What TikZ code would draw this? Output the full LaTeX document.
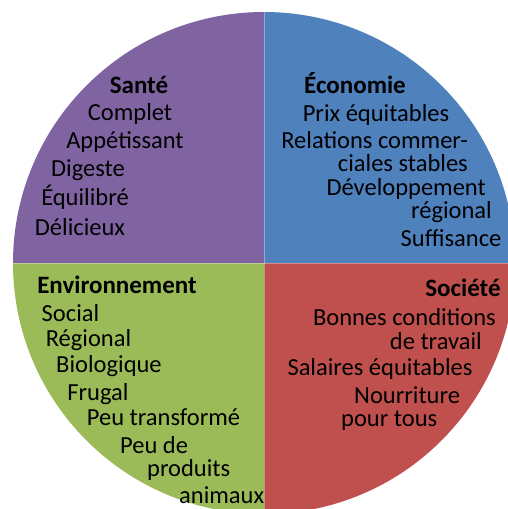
\documentclass[tikz,border=0pt]{standalone}
\usepackage{fontspec}
\setmainfont{Carlito}
\definecolor{sante}{HTML}{8064A2}
\definecolor{eco}{HTML}{4F81BD}
\definecolor{envi}{HTML}{9BBB59}
\definecolor{soc}{HTML}{C0504D}
\tikzset{
  lbl/.style={inner sep=0pt, anchor=base, font=\fontsize{24.5}{20}\selectfont, text=black},
  lble/.style={lbl, anchor=base east},
  lblw/.style={lbl, anchor=base west},
  ttl/.style={lbl, font=\fontsize{25}{20}\selectfont\bfseries},
  seam/.style={draw=white, draw opacity=0.35, line width=0.7pt}
}
\begin{document}
\begin{tikzpicture}[x=1pt,y=-1pt]
\useasboundingbox (0,0) rectangle (508,509);
\begin{scope}
  \clip (0,0) rectangle (508,509);
  \clip (264,263) circle (251pt);
  \fill[sante] (0,0) rectangle (264,263);
  \fill[eco] (264,0) rectangle (508,263);
  \fill[envi] (0,263) rectangle (264,509);
  \fill[soc] (264,263) rectangle (508,509);
  \coordinate (tp) at (264,0);
  \coordinate (bt) at (264,509);
  \coordinate (lf) at (0,263);
  \coordinate (rt) at (508,263);
  \draw[seam] (tp) -- (bt);
  \draw[seam] (lf) -- (rt);
\end{scope}
% Sante
\node[ttl] (s0) at (139,93) {Santé};
\node[lbl] (s1) at (130,120) {Complet};
\node[lbl] (s2) at (125,148) {Appétissant};
\node[lbl] (s3) at (88,176) {Digeste};
\node[lbl] (s4) at (85,205) {Équilibré};
\node[lbl] (s5) at (80,235) {Délicieux};
% Economie
\node[ttl] (e0) at (355,93) {Économie};
\node[lbl] (e1) at (376,121) {Prix équitables};
\node[lble] (e2) at (468,148) {\begin{tabular}[t]{@{}r@{}}Relations commer-\\ciales stables\end{tabular}};
\node[lble] (e4) at (492,195) {\begin{tabular}[t]{@{}r@{}}Développement\hspace*{6pt}\\régional\end{tabular}};
\node[lbl] (e6) at (451,246) {Suffisance};
% Environnement
\node[ttl] (n0) at (117,293) {Environnement};
\node[lbl] (n1) at (70.5,321) {Social};
\node[lbl] (n2) at (88.5,346) {Régional};
\node[lbl] (n3) at (109,372) {Biologique};
\node[lbl] (n4) at (98,400) {Frugal};
\node[lbl] (n5) at (163.5,425) {Peu transformé};
\node[lblw] (n6) at (120,453) {\begin{tabular}[t]{@{}l@{}}Peu de\\\hspace*{27pt}produits\\[5pt]\hspace*{59pt}animaux\end{tabular}};
% Societe
\node[ttl] (o0) at (463,296) {Société};
\node[lble] (o1) at (496,325) {\begin{tabular}[t]{@{}r@{}}Bonnes conditions\\[1pt]de travail\hspace*{14pt}\end{tabular}};
\node[lbl] (o3) at (380,375) {Salaires équitables};
\node[lblw] (o4) at (341,403) {\begin{tabular}[t]{@{}l@{}}\hspace*{13pt}Nourriture\\[2pt]pour tous\end{tabular}};
\end{tikzpicture}
\end{document}
